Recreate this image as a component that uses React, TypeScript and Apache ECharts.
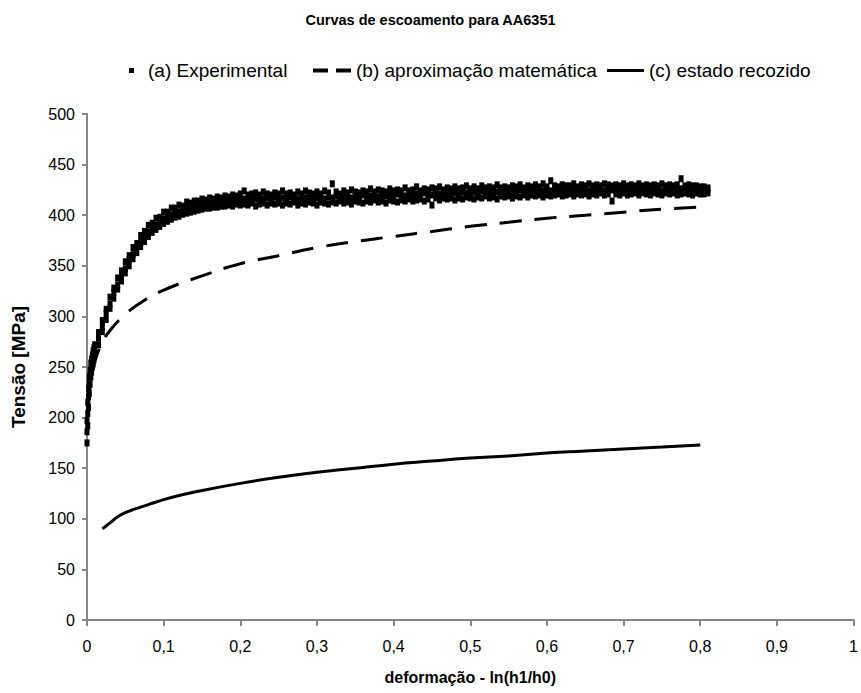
import React, { useEffect, useRef } from "react";
import * as echarts from "echarts";

const TITLE = "Curvas de escoamento para AA6351";
const NAME_A = "(a) Experimental";
const NAME_B = "(b) aproximação matemática";
const NAME_C = "(c) estado recozido";
const X_NAME = "deformação - ln(h1/h0)";
const Y_NAME = "Tensão [MPa]";

// experimental readings: [deformação, tensão readings...]
const experimentalRows: number[][] = [
  [0.000, 175, 186, 197],
  [0.001, 192, 204, 215],
  [0.002, 210, 221, 229],
  [0.003, 224, 233, 240],
  [0.004, 233, 241, 247],
  [0.005, 240, 247, 254],
  [0.006, 245, 252, 258],
  [0.007, 250, 256, 262],
  [0.008, 253, 260, 266],
  [0.009, 257, 263, 269],
  [0.010, 261, 266, 272],
  [0.015, 272, 279, 284],
  [0.020, 285, 290, 296],
  [0.025, 297, 303, 307],
  [0.030, 308, 312, 319],
  [0.035, 318, 324, 328],
  [0.040, 327, 331, 338],
  [0.045, 335, 341, 345],
  [0.050, 343, 347, 354],
  [0.055, 350, 356, 360],
  [0.060, 357, 361, 368],
  [0.065, 363, 369, 372],
  [0.070, 369, 373, 380],
  [0.075, 374, 380, 384],
  [0.080, 379, 383, 390],
  [0.085, 383, 389, 392],
  [0.090, 386, 390, 397],
  [0.095, 389, 395, 398],
  [0.100, 392, 396, 403],
  [0.105, 394, 400, 403],
  [0.110, 396, 400, 407],
  [0.115, 398, 404, 407],
  [0.120, 399, 403, 410],
  [0.125, 401, 406, 409],
  [0.130, 402, 407, 413],
  [0.135, 403, 409, 412],
  [0.140, 404, 408, 414],
  [0.145, 405, 411, 414],
  [0.150, 406, 410, 416],
  [0.155, 407, 412, 415],
  [0.160, 407, 411, 417],
  [0.165, 408, 413, 416],
  [0.170, 408, 412, 418],
  [0.175, 409, 414, 417],
  [0.180, 409, 413, 419],
  [0.185, 410, 415, 418],
  [0.190, 409, 414, 420],
  [0.195, 411, 416, 419],
  [0.200, 410, 415, 421],
  [0.205, 411, 416, 424],
  [0.210, 410, 415, 420],
  [0.215, 412, 417, 421],
  [0.220, 409, 416, 422],
  [0.225, 411, 417, 420],
  [0.230, 412, 416, 423],
  [0.235, 410, 417, 421],
  [0.240, 412, 416, 420],
  [0.245, 411, 418, 422],
  [0.250, 412, 416, 421],
  [0.255, 410, 417, 424],
  [0.260, 412, 416, 421],
  [0.265, 411, 418, 422],
  [0.270, 413, 417, 420],
  [0.275, 410, 416, 423],
  [0.280, 412, 418, 421],
  [0.285, 411, 417, 424],
  [0.290, 413, 416, 422],
  [0.295, 412, 418, 421],
  [0.300, 410, 417, 423],
  [0.305, 413, 418, 421],
  [0.310, 412, 416, 424],
  [0.315, 411, 418, 422],
  [0.320, 413, 417, 431],
  [0.325, 412, 419, 423],
  [0.330, 414, 417, 421],
  [0.335, 412, 418, 424],
  [0.340, 413, 419, 422],
  [0.345, 411, 417, 425],
  [0.350, 414, 419, 423],
  [0.355, 413, 418, 422],
  [0.360, 412, 420, 424],
  [0.365, 414, 418, 423],
  [0.370, 413, 419, 426],
  [0.375, 415, 420, 423],
  [0.380, 413, 418, 425],
  [0.385, 414, 420, 424],
  [0.390, 412, 419, 423],
  [0.395, 415, 420, 426],
  [0.400, 414, 419, 424],
  [0.405, 413, 421, 425],
  [0.410, 415, 420, 424],
  [0.415, 414, 419, 427],
  [0.420, 416, 421, 424],
  [0.425, 414, 420, 425],
  [0.430, 415, 421, 428],
  [0.435, 416, 420, 424],
  [0.440, 414, 422, 426],
  [0.445, 416, 421, 425],
  [0.450, 410, 420, 427],
  [0.455, 417, 422, 426],
  [0.460, 415, 421, 428],
  [0.465, 417, 422, 425],
  [0.470, 416, 421, 427],
  [0.475, 417, 423, 426],
  [0.480, 415, 422, 428],
  [0.485, 417, 421, 426],
  [0.490, 416, 423, 427],
  [0.495, 418, 422, 429],
  [0.500, 417, 421, 426],
  [0.505, 416, 423, 428],
  [0.510, 418, 422, 426],
  [0.515, 417, 424, 429],
  [0.520, 419, 423, 427],
  [0.525, 417, 422, 428],
  [0.530, 418, 424, 427],
  [0.535, 416, 423, 430],
  [0.540, 419, 424, 427],
  [0.545, 418, 422, 428],
  [0.550, 419, 424, 427],
  [0.555, 417, 423, 429],
  [0.560, 419, 424, 428],
  [0.565, 418, 425, 430],
  [0.570, 420, 424, 427],
  [0.575, 418, 423, 429],
  [0.580, 420, 425, 428],
  [0.585, 419, 424, 430],
  [0.590, 420, 425, 428],
  [0.595, 418, 424, 431],
  [0.600, 420, 425, 428],
  [0.605, 419, 424, 434],
  [0.610, 420, 425, 429],
  [0.615, 421, 424, 428],
  [0.620, 419, 425, 430],
  [0.625, 420, 424, 429],
  [0.630, 421, 426, 429],
  [0.635, 419, 425, 431],
  [0.640, 421, 424, 428],
  [0.645, 420, 426, 430],
  [0.650, 421, 425, 429],
  [0.655, 419, 424, 431],
  [0.660, 421, 426, 429],
  [0.665, 420, 425, 430],
  [0.670, 422, 426, 429],
  [0.675, 420, 424, 431],
  [0.680, 421, 426, 430],
  [0.685, 414, 425, 429],
  [0.690, 421, 424, 430],
  [0.695, 420, 426, 429],
  [0.700, 422, 425, 431],
  [0.705, 420, 426, 429],
  [0.710, 421, 424, 430],
  [0.715, 422, 426, 429],
  [0.720, 420, 425, 431],
  [0.725, 422, 426, 429],
  [0.730, 421, 424, 430],
  [0.735, 420, 426, 429],
  [0.740, 422, 425, 430],
  [0.745, 421, 426, 429],
  [0.750, 420, 424, 431],
  [0.755, 422, 426, 429],
  [0.760, 421, 425, 430],
  [0.765, 422, 426, 429],
  [0.770, 420, 424, 430],
  [0.775, 421, 426, 436],
  [0.780, 422, 425, 429],
  [0.785, 421, 426, 430],
  [0.790, 420, 424, 429],
  [0.795, 422, 426, 429],
  [0.800, 421, 425, 428],
  [0.805, 421, 424, 428],
  [0.810, 422, 425, 427],
];

// (b) aproximação matemática
const approxX = [0.002, 0.005, 0.01, 0.02, 0.03, 0.05, 0.075, 0.1, 0.15, 0.2, 0.25, 0.3, 0.35, 0.4, 0.45, 0.5, 0.55, 0.6, 0.65, 0.7, 0.75, 0.8];
const approxY = [213, 236, 255, 274, 286, 302, 316, 326, 340, 352, 360, 368, 374, 379, 384, 389, 393, 397, 400, 403, 406, 408];

// (c) estado recozido
const annealedX = [0.02, 0.03, 0.04, 0.05, 0.06, 0.08, 0.1, 0.12, 0.15, 0.2, 0.25, 0.3, 0.35, 0.4, 0.45, 0.5, 0.55, 0.6, 0.65, 0.7, 0.75, 0.8];
const annealedY = [90, 96, 102, 106, 109, 114, 119, 123, 128, 135, 141, 146, 150, 154, 157, 160, 162, 165, 167, 169, 171, 173];

const FONT = "'Liberation Sans', Arial, sans-serif";
const AXIS_COLOR = "#868686";
const DASH_ICON = "path://M0,0H15V4H0Z M23,0H38V4H23Z";
const SOLID_ICON = "path://M0,0H37V3H0Z";

export default function App() {
  const ref = useRef<HTMLDivElement>(null);
  useEffect(() => {
    if (!ref.current) return;
    const chart = echarts.init(ref.current, undefined, { renderer: "svg" });
    const expData: number[][] = [];
    experimentalRows.forEach(([x, ...ys]) => ys.forEach((y) => expData.push([x, y])));
    const approxData = approxX.map((x, i) => [x, approxY[i]]);
    const annealedData = annealedX.map((x, i) => [x, annealedY[i]]);
    const fmtX = (v: number) => (Number.isInteger(v) ? String(v) : v.toFixed(1).replace(".", ","));
    const legendText = { color: "#000", fontSize: 19, fontFamily: FONT };
    chart.setOption({
      animation: false,
      backgroundColor: "#fff",
      textStyle: { fontFamily: FONT },
      title: {
        text: TITLE,
        left: "center",
        top: 12,
        padding: 0,
        textStyle: { fontSize: 14.5, fontWeight: "bold", color: "#000", fontFamily: FONT },
      },
      legend: [
        {
          data: [{ name: NAME_A, icon: "rect" }],
          left: 129,
          top: 61,
          padding: 0,
          itemWidth: 5,
          itemHeight: 5,
          textStyle: { ...legendText, padding: [0, 0, 0, 9] },
        },
        {
          data: [{ name: NAME_B, icon: DASH_ICON }],
          left: 313,
          top: 61,
          padding: 0,
          itemWidth: 38,
          itemHeight: 14,
          itemStyle: { color: "#000", borderWidth: 0 },
          textStyle: legendText,
        },
        {
          data: [{ name: NAME_C, icon: SOLID_ICON }],
          left: 607,
          top: 61,
          padding: 0,
          itemWidth: 37,
          itemHeight: 14,
          itemStyle: { color: "#000", borderWidth: 0 },
          textStyle: legendText,
        },
      ],
      grid: { left: 87, right: 6, top: 114, bottom: 73, containLabel: false },
      xAxis: {
        type: "value",
        min: 0,
        max: 1,
        interval: 0.1,
        name: X_NAME,
        nameLocation: "middle",
        nameGap: 49,
        nameTextStyle: { fontSize: 16, fontWeight: "bold", color: "#000", fontFamily: FONT },
        axisLine: { lineStyle: { color: AXIS_COLOR, width: 2 } },
        axisTick: { show: true, length: 6, lineStyle: { color: AXIS_COLOR, width: 2 } },
        axisLabel: { formatter: fmtX, fontSize: 16, color: "#000", margin: 18, fontFamily: FONT },
        splitLine: { show: false },
      },
      yAxis: {
        type: "value",
        min: 0,
        max: 500,
        interval: 50,
        name: Y_NAME,
        nameLocation: "middle",
        nameRotate: 90,
        nameGap: 59,
        nameTextStyle: { fontSize: 19, fontWeight: "bold", color: "#000", fontFamily: FONT },
        axisLine: { show: true, lineStyle: { color: AXIS_COLOR, width: 2 } },
        axisTick: { show: true, length: 5, lineStyle: { color: AXIS_COLOR, width: 2 } },
        axisLabel: { fontSize: 16, color: "#000", margin: 12, fontFamily: FONT },
        splitLine: { show: false },
      },
      series: [
        {
          name: NAME_B,
          type: "line",
          data: approxData,
          smooth: true,
          showSymbol: false,
          symbol: "none",
          lineStyle: { color: "#000", width: 3, type: [22, 13] },
          itemStyle: { color: "#000" },
          z: 2,
        },
        {
          name: NAME_C,
          type: "line",
          data: annealedData,
          smooth: true,
          showSymbol: false,
          symbol: "none",
          lineStyle: { color: "#000", width: 3 },
          itemStyle: { color: "#000" },
          z: 2,
        },
        {
          name: NAME_A,
          type: "scatter",
          data: expData,
          symbol: "rect",
          symbolSize: [5, 7],
          itemStyle: { color: "#000", opacity: 1 },
          z: 3,
        },
      ],
    });
    return () => chart.dispose();
  }, []);
  return <div ref={ref} style={{ position: "fixed", left: 0, top: 0, width: 861, height: 693 }} />;
}
